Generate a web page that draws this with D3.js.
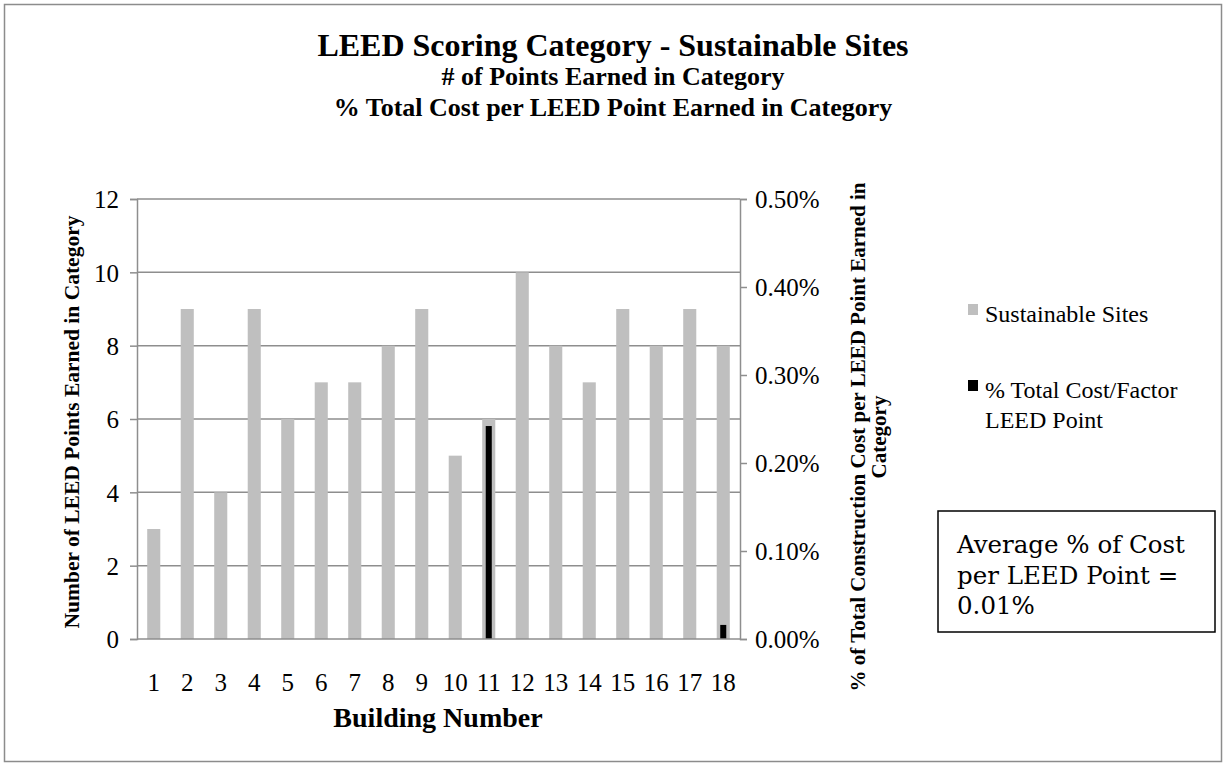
<!DOCTYPE html>
<html>
<head>
<meta charset="utf-8">
<script src="https://cdn.jsdelivr.net/npm/d3@7"></script>
<style>
  body { margin: 0; background: #fff; }
  svg text { font-family: "Liberation Serif", "Times New Roman", serif; fill: #000; }
</style>
</head>
<body>
<div id="chart"><svg></svg></div>
<script>
// values
const buildings = ['1','2','3','4','5','6','7','8','9','10','11','12','13','14','15','16','17','18'];
const points = [3, 9, 4, 9, 6, 7, 7, 8, 9, 5, 6, 10, 8, 7, 9, 8, 9, 8];
const costPct = [0, 0, 0, 0, 0, 0, 0, 0, 0, 0, 0.00242, 0, 0, 0, 0, 0, 0, 0.00016];
const leftTicks = [0, 2, 4, 6, 8, 10, 12];
const rightTicks = [0, 0.001, 0.002, 0.003, 0.004, 0.005];
const seriesNames = ['Sustainable Sites', '% Total Cost/Factor|LEED Point'];

(function(){
    const W = 1225, H = 767;
    const svg = d3.select('#chart svg').attr('width', W).attr('height', H);

    // chart border
    svg.append('rect').attr('x', 4.5).attr('y', 4.5).attr('width', 1217).attr('height', 757)
        .attr('fill', '#fff').attr('stroke', '#8c8c8c').attr('stroke-width', 1.5);

    const left = 137, right = 740, top = 199, bottom = 639;
    const gridCol = '#8e8e8e';

    const x = d3.scaleBand().domain(buildings).range([left, right]).padding(0);
    const y = d3.scaleLinear().domain([0, 12]).range([bottom, top]);
    const y2 = d3.scaleLinear().domain([0, 0.005]).range([bottom, top]);

    // gridlines
    svg.append('g').selectAll('line').data(leftTicks.slice(1)).join('line')
        .attr('x1', left).attr('x2', right)
        .attr('y1', d => y(d)).attr('y2', d => y(d))
        .attr('stroke', gridCol).attr('stroke-width', 1.5);

    // left axis
    const ax = svg.append('g').attr('transform', `translate(${left},0)`)
        .call(d3.axisLeft(y).tickValues(leftTicks).tickSize(7).tickPadding(11).tickFormat(d3.format('d')));
    ax.select('.domain').attr('stroke', gridCol).attr('stroke-width', 1.5);
    ax.selectAll('.tick line').attr('stroke', gridCol).attr('stroke-width', 1.5);
    ax.selectAll('.tick text').style('font-size', '25px').style('font-family', '"Liberation Serif", serif').attr('dy', '0.35em');

    // right axis
    const ax2 = svg.append('g').attr('transform', `translate(${right},0)`)
        .call(d3.axisRight(y2).tickValues(rightTicks).tickSize(7).tickPadding(8).tickFormat(d3.format('.2%')));
    ax2.select('.domain').attr('stroke', gridCol).attr('stroke-width', 1.5);
    ax2.selectAll('.tick line').attr('stroke', gridCol).attr('stroke-width', 1.5);
    ax2.selectAll('.tick text').style('font-size', '25px').style('font-family', '"Liberation Serif", serif').attr('dy', '0.35em');

    // bars - primary
    const bw = x.bandwidth() * 0.39;
    svg.append('g').selectAll('rect').data(points).join('rect')
        .attr('x', (d, i) => x(buildings[i]) + x.bandwidth() / 2 - bw / 2)
        .attr('width', bw)
        .attr('y', d => y(d))
        .attr('height', d => bottom - y(d))
        .attr('fill', '#bfbfbf');

    // bars - secondary
    const bw2 = x.bandwidth() * 0.18;
    svg.append('g').selectAll('rect').data(costPct).join('rect')
        .attr('x', (d, i) => x(buildings[i]) + x.bandwidth() / 2 - bw2 / 2)
        .attr('width', bw2)
        .attr('y', d => y2(d))
        .attr('height', d => bottom - y2(d))
        .attr('fill', '#000');

    // bottom axis line
    svg.append('line').attr('x1', left).attr('x2', right).attr('y1', bottom).attr('y2', bottom)
        .attr('stroke', gridCol).attr('stroke-width', 1.5);

    // x labels
    svg.append('g').selectAll('text').data(buildings).join('text')
        .attr('x', d => x(d) + x.bandwidth() / 2)
        .attr('y', 691)
        .attr('text-anchor', 'middle')
        .style('font-size', '25px')
        .text(d => d);

    // titles
    svg.append('text').attr('x', 613).attr('y', 56).attr('text-anchor', 'middle')
        .style('font-size', '32px').style('font-weight', 'bold')
        .text('LEED Scoring Category - Sustainable Sites');
    svg.append('text').attr('x', 613).attr('y', 85).attr('text-anchor', 'middle')
        .style('font-size', '26px').style('font-weight', 'bold')
        .text('# of Points Earned in Category');
    svg.append('text').attr('x', 613).attr('y', 116).attr('text-anchor', 'middle')
        .style('font-size', '26px').style('font-weight', 'bold')
        .text('% Total Cost per LEED Point Earned in Category');

    svg.append('text').attr('x', 438).attr('y', 727).attr('text-anchor', 'middle')
        .style('font-size', '28px').style('font-weight', 'bold')
        .text('Building Number');

    svg.append('text').attr('transform', 'translate(79,422) rotate(-90)').attr('text-anchor', 'middle')
        .style('font-size', '21.5px').style('font-weight', 'bold')
        .text('Number of LEED Points Earned in Category');

    const rt = svg.append('text').attr('transform', 'translate(865,437) rotate(-90)').attr('text-anchor', 'middle')
        .style('font-size', '21px').style('font-weight', 'bold');
    rt.append('tspan').attr('x', 0).attr('dy', 0).text('% of Total Construction Cost per LEED Point Earned in');
    rt.append('tspan').attr('x', 0).attr('dy', 21).text('Category');

    // legend
    const lg = svg.append('g');
    const lgY = [304, 380];
    const lgCol = ['#bfbfbf', '#000'];
    seriesNames.forEach((name, i) => {
        lg.append('rect').attr('x', 968).attr('y', lgY[i]).attr('width', 10).attr('height', 11).attr('fill', lgCol[i]);
        const t = lg.append('text').attr('x', 985).attr('y', lgY[i] + 18).style('font-size', '24px');
        name.split('|').forEach((s, j) => t.append('tspan').attr('x', 985).attr('dy', j ? 30 : 0).text(s));
    });

    // annotation box
    svg.append('rect').attr('x', 938).attr('y', 511).attr('width', 277).attr('height', 121)
        .attr('fill', '#fff').attr('stroke', '#000').attr('stroke-width', 1.5);
    const note = svg.append('text').attr('x', 957).attr('y', 553)
        .style('font-family', '"DejaVu Serif", serif').style('font-size', '24.5px');
    ['Average % of Cost', 'per LEED Point =', '0.01%'].forEach((s, j) =>
        note.append('tspan').attr('x', 957).attr('dy', j ? 30.5 : 0).text(s));
})();
</script>
</body>
</html>
